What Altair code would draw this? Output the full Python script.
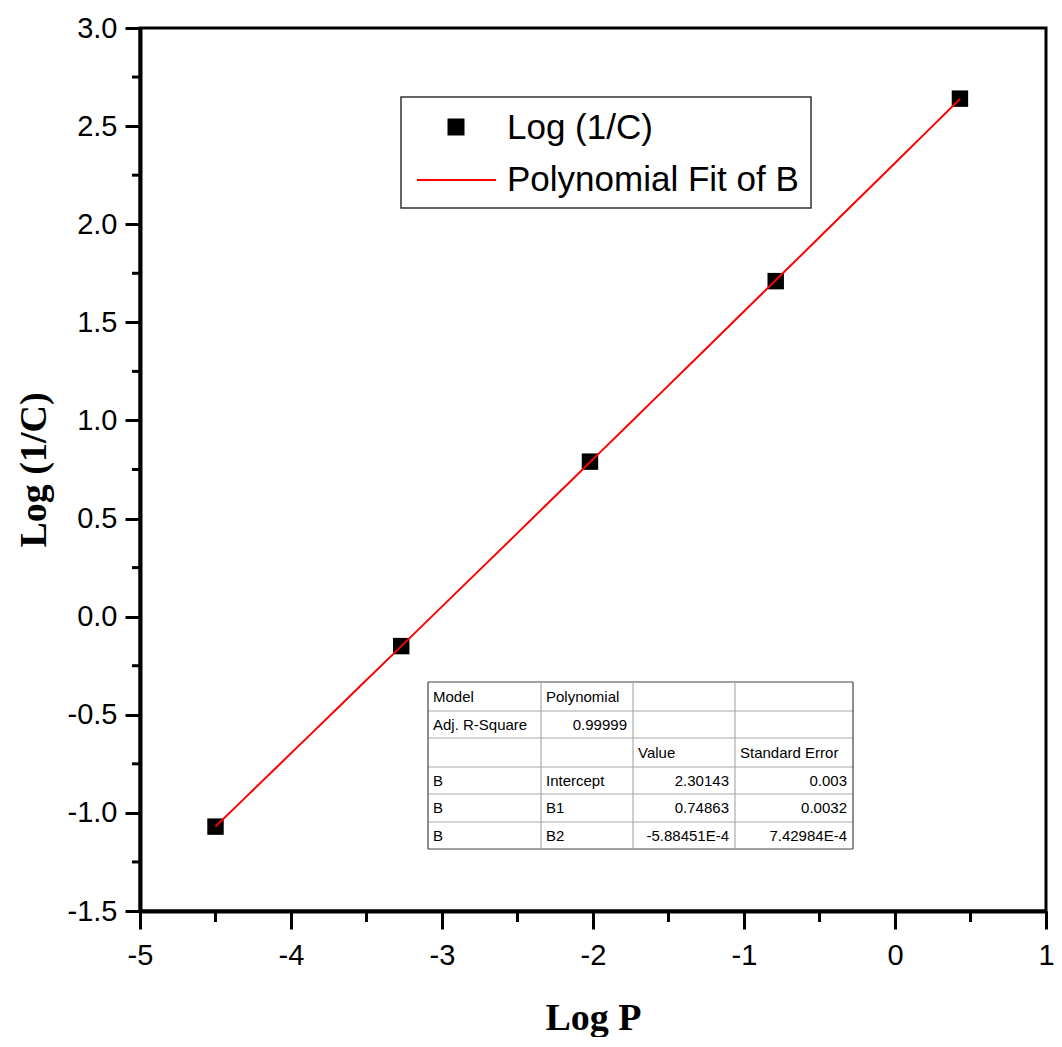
import altair as alt
import pandas as pd

# ---------------- data ----------------
log_p = [-4.50, -3.27, -2.02, -0.79, 0.43]
log_inv_c = [-1.07, -0.15, 0.79, 1.71, 2.64]

x_ticks = [-5, -4, -3, -2, -1, 0, 1]
y_ticks = [-1.5, -1.0, -0.5, 0.0, 0.5, 1.0, 1.5, 2.0, 2.5, 3.0]
x_minor = [-4.5, -3.5, -2.5, -1.5, -0.5, 0.5]
y_minor = [-1.25, -0.75, -0.25, 0.25, 0.75, 1.25, 1.75, 2.25, 2.75]

legend_labels = ["Log (1/C)", "Polynomial Fit of B"]

table_rows = [
    ["Model", "Polynomial", "", ""],
    ["Adj. R-Square", "0.99999", "", ""],
    ["", "", "Value", "Standard Error"],
    ["B", "Intercept", "2.30143", "0.003"],
    ["B", "B1", "0.74863", "0.0032"],
    ["B", "B2", "-5.88451E-4", "7.42984E-4"],
]

# ---------------- layout (pixels, relative to plot area) ----------------
W, H = 906, 883
DX = 3
col_edges = [c + DX for c in [285, 398, 490, 592, 710]]
row_edges = [654, 683, 710, 739, 766, 794, 821]
legend_box = (258 + DX, 668 + DX, 69, 180)

SANS = "Liberation Sans"
SERIF = "Liberation Serif"

df = pd.DataFrame({"logP": log_p, "logC": log_inv_c})

x_scale = alt.Scale(domain=[-5, 1], nice=False, zero=False)
y_scale = alt.Scale(domain=[-1.5, 3.0], nice=False, zero=False)

x_axis = alt.Axis(values=x_ticks, title="Log P", grid=False,
                  labelExpr="(datum.value < 0 ? '-' : '') + format(abs(datum.value), 'd')",
                  tickSize=18, tickWidth=3, tickColor="black",
                  domainWidth=4, domainColor="black",
                  labelFont=SANS, labelFontSize=29, labelColor="black",
                  labelPadding=12, labelFlush=False, labelOverlap=False,
                  titleFont=SERIF, titleFontSize=38, titleFontWeight="bold",
                  titleColor="black", titlePadding=29)
y_axis = alt.Axis(values=y_ticks, title="Log (1/C)", grid=False,
                  labelExpr="(datum.value < 0 ? '-' : '') + format(abs(datum.value), '.1f')",
                  tickSize=15, tickWidth=3, tickColor="black",
                  domainWidth=4, domainColor="black",
                  labelFont=SANS, labelFontSize=29, labelColor="black",
                  labelPadding=8, labelFlush=False, labelOverlap=False,
                  titleFont=SERIF, titleFontSize=38, titleFontWeight="bold",
                  titleColor="black", titlePadding=14)

points = alt.Chart(df).mark_square(size=270, color="black", opacity=1).encode(
    x=alt.X("logP:Q", scale=x_scale, axis=x_axis),
    y=alt.Y("logC:Q", scale=y_scale, axis=y_axis),
)

fit = alt.Chart(df).transform_regression(
    "logP", "logC", method="poly", order=2
).mark_line(color="red", strokeWidth=2).encode(
    x=alt.X("logP:Q", scale=x_scale, axis=x_axis),
    y=alt.Y("logC:Q", scale=y_scale, axis=y_axis),
)

# minor ticks
xminor = alt.Chart(pd.DataFrame({"logP": x_minor})).mark_rule(
    color="black", strokeWidth=3).encode(
    x=alt.X("logP:Q", scale=x_scale, axis=x_axis),
    y=alt.value(H), y2=alt.value(H + 11),
)
yminor = alt.Chart(pd.DataFrame({"logC": y_minor})).mark_rule(
    color="black", strokeWidth=3).encode(
    y=alt.Y("logC:Q", scale=y_scale, axis=y_axis),
    x=alt.value(-8), x2=alt.value(0),
)

# legend
one = pd.DataFrame({"a": [0]})
lx0, lx1, ly0, ly1 = legend_box
leg_box = alt.Chart(one).mark_rect(fill="white", stroke="#333333", strokeWidth=1.5).encode(
    x=alt.value(lx0), x2=alt.value(lx1), y=alt.value(ly0), y2=alt.value(ly1))
leg_sq = alt.Chart(one).mark_square(size=289, color="black", opacity=1).encode(
    x=alt.value(313 + DX), y=alt.value(99))
leg_line = alt.Chart(one).mark_rule(color="red", strokeWidth=2).encode(
    x=alt.value(274 + DX), x2=alt.value(353 + DX), y=alt.value(152))
leg_df = pd.DataFrame({"label": legend_labels, "px": [364 + DX, 364 + DX], "py": [100, 152]})
leg_text = alt.Chart(leg_df).mark_text(
    font=SANS, fontSize=35, align="left", baseline="middle", color="black").encode(
    x=alt.X("px:Q", scale=None, axis=None),
    y=alt.Y("py:Q", scale=None, axis=None),
    text="label:N")

# table
cells = []
for r, row in enumerate(table_rows):
    for c, txt in enumerate(row):
        if not txt:
            continue
        try:
            float(txt)
            numeric = True
        except ValueError:
            numeric = False
        yc = (row_edges[r] + row_edges[r + 1]) / 2
        if numeric:
            cells.append({"t": txt, "px": col_edges[c + 1] - 6, "py": yc, "al": "right"})
        else:
            cells.append({"t": txt, "px": col_edges[c] + 5, "py": yc, "al": "left"})
cells_df = pd.DataFrame(cells)

lines = []
for i, yv in enumerate(row_edges):
    outer = i in (0, len(row_edges) - 1)
    lines.append({"x1": col_edges[0], "x2": col_edges[-1], "y1": yv, "y2": yv,
                  "k": "outer" if outer else "inner"})
for j, xv in enumerate(col_edges):
    outer = j in (0, len(col_edges) - 1)
    lines.append({"x1": xv, "x2": xv, "y1": row_edges[0], "y2": row_edges[-1],
                  "k": "outer" if outer else "inner"})
lines_df = pd.DataFrame(lines)

tbl_bg = alt.Chart(one).mark_rect(fill="white").encode(
    x=alt.value(col_edges[0]), x2=alt.value(col_edges[-1]),
    y=alt.value(row_edges[0]), y2=alt.value(row_edges[-1]))
tbl_lines = alt.Chart(lines_df).mark_rule(strokeWidth=1.2).encode(
    x=alt.X("x1:Q", scale=None, axis=None), x2="x2:Q",
    y=alt.Y("y1:Q", scale=None, axis=None), y2="y2:Q",
    color=alt.Color("k:N", scale=alt.Scale(domain=["outer", "inner"],
                                           range=["#444444", "#aaaaaa"]), legend=None))
TBL_FONT = 15
tbl_left = alt.Chart(cells_df).transform_filter(alt.datum.al == "left").mark_text(
    font=SANS, fontSize=TBL_FONT, align="left",
    baseline="middle", color="black").encode(
    x=alt.X("px:Q", scale=None, axis=None), y=alt.Y("py:Q", scale=None, axis=None),
    text="t:N")
tbl_right = alt.Chart(cells_df).transform_filter(alt.datum.al == "right").mark_text(
    font=SANS, fontSize=TBL_FONT, align="right",
    baseline="middle", color="black").encode(
    x=alt.X("px:Q", scale=None, axis=None), y=alt.Y("py:Q", scale=None, axis=None),
    text="t:N")

chart = alt.layer(
    xminor, yminor, tbl_bg, tbl_lines, tbl_left, tbl_right,
    leg_box, leg_sq, leg_line, leg_text, points, fit,
).properties(
    width=W, height=H,
    autosize=alt.AutoSizeParams(type="none"),
    padding={"left": 132, "top": 20, "right": 8, "bottom": 126},
    background="white",
).configure_view(stroke="black", strokeWidth=3)

chart.save("out.html", embed_options={"renderer": "svg", "actions": False})
